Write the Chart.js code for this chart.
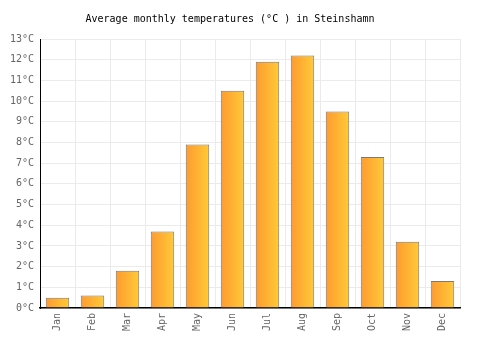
<!DOCTYPE html>
<html>
<head>
<meta charset="utf-8">
<script src="https://cdn.jsdelivr.net/npm/chart.js@4/dist/chart.umd.min.js"></script>
<style>
html,body{margin:0;padding:0;background:#fff;}
#wrap{width:500px;height:350px;}
</style>
</head>
<body>
<div id="wrap"><canvas id="c" width="500" height="350"></canvas></div>
<script>
const months = ["Jan","Feb","Mar","Apr","May","Jun","Jul","Aug","Sep","Oct","Nov","Dec"];
const temps = [0.5, 0.6, 1.8, 3.7, 7.9, 10.5, 11.9, 12.2, 9.5, 7.3, 3.2, 1.3];
const titleText = "Average monthly temperatures (°C ) in Steinshamn";
const unit = "°C";

const FONT = "'DejaVu Sans Mono', monospace";
const BAR_PCT = 0.67;

function barFill(c) {
  const chart = c.chart;
  const xs = chart.scales && chart.scales.x;
  if (!xs || !chart.chartArea || c.dataIndex === undefined) return '#ffb030';
  const x = xs.getPixelForValue(c.dataIndex);
  const w = xs.width / months.length * BAR_PCT;
  const g = chart.ctx.createLinearGradient(x - w/2, 0, x + w/2, 0);
  g.addColorStop(0, '#ff9a30');
  g.addColorStop(1, '#ffca38');
  return g;
}

new Chart(document.getElementById('c'), {
  type: 'bar',
  data: {
    labels: months,
    datasets: [{
      data: temps,
      backgroundColor: barFill,
      borderColor: '#7a7a7a',
      borderWidth: 1,
      categoryPercentage: 1.0,
      barPercentage: BAR_PCT
    }]
  },
  options: {
    responsive: false,
    animation: false,
    layout: { padding: { left: 0, right: 40, top: 0, bottom: 0 } },
    plugins: {
      legend: { display: false },
      tooltip: { enabled: false },
      title: {
        display: true,
        text: titleText,
        color: '#000',
        font: { family: FONT, size: 10, weight: 'normal' },
        padding: { top: 13, bottom: 14 }
      }
    },
    scales: {
      x: {
        grid: { color: '#ebebeb', drawTicks: false, offset: true },
        border: { color: '#000', width: 1.5 },
        ticks: {
          color: '#666', font: { family: FONT, size: 10 },
          maxRotation: 90, minRotation: 90, padding: 5
        },
        afterFit(s) { s.height = 42; }
      },
      y: {
        min: 0, max: 13,
        grid: { color: '#ebebeb', drawTicks: false },
        border: { color: '#000', width: 1 },
        ticks: {
          stepSize: 1, color: '#666', font: { family: FONT, size: 10 }, padding: 6,
          callback: v => v + unit
        },
        afterFit(s) { s.width = 40; }
      }
    }
  }
});
</script>
</body>
</html>
